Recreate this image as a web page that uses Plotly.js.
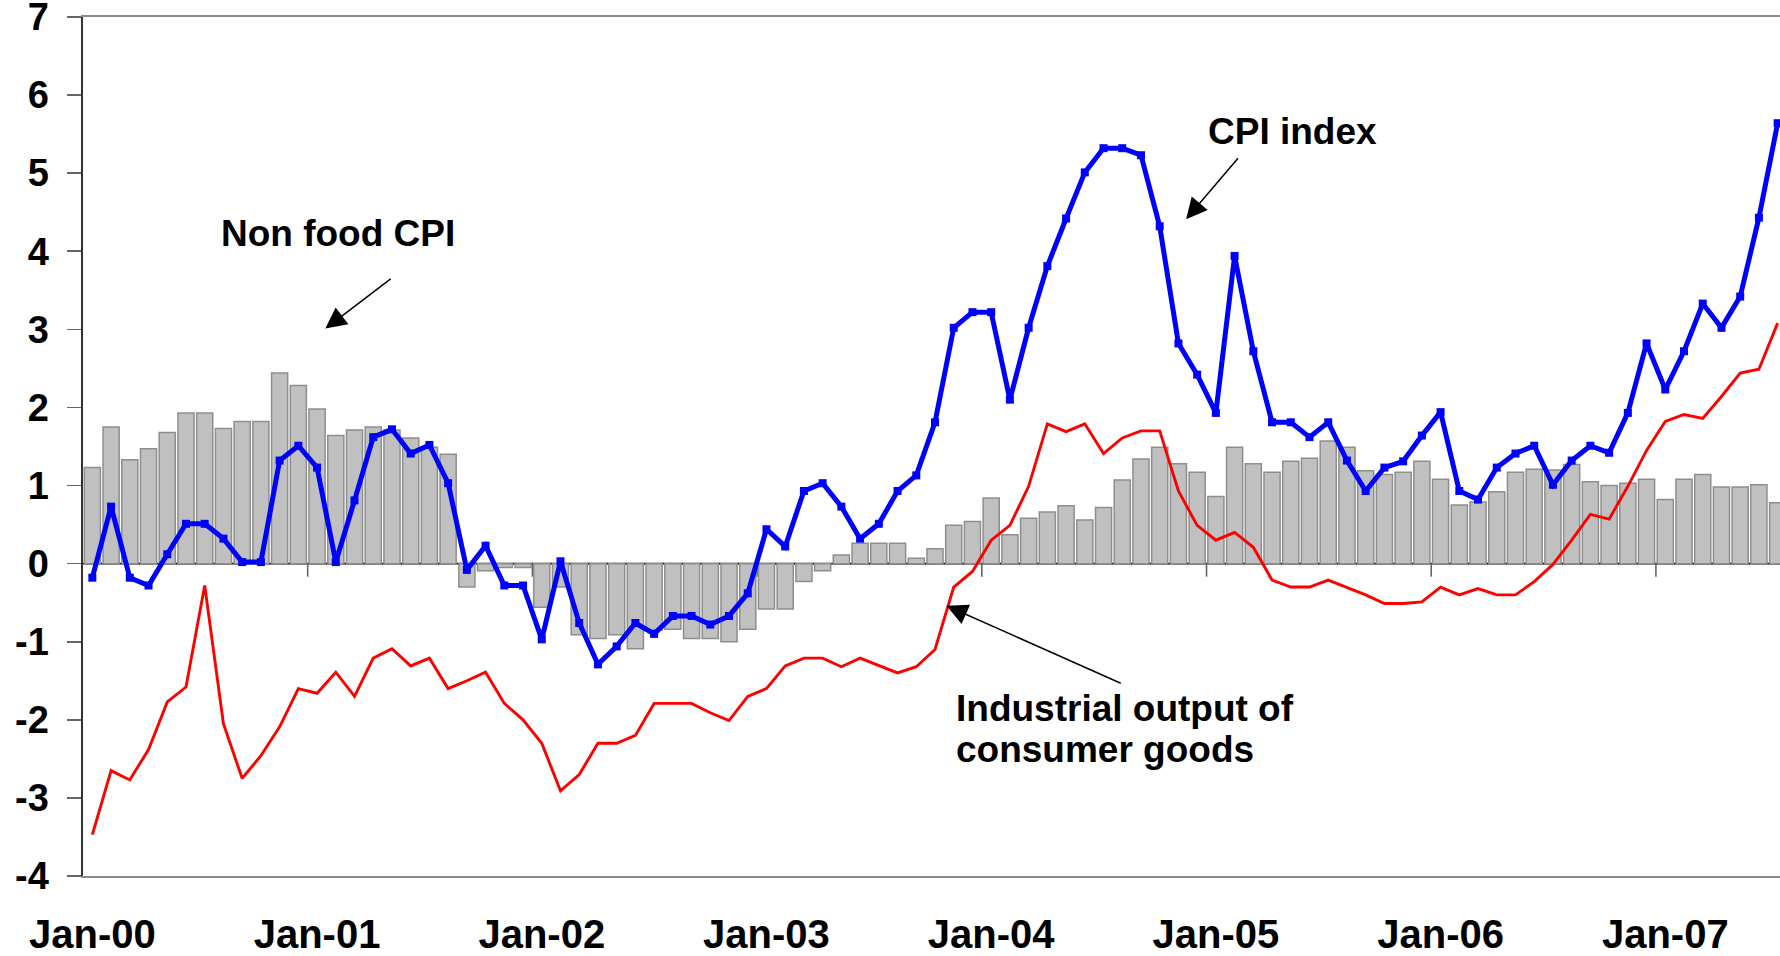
<!DOCTYPE html>
<html>
<head>
<meta charset="utf-8">
<script src="https://cdn.plot.ly/plotly-3.0.1.min.js"></script>
<style>
html,body{margin:0;padding:0;overflow:hidden;background:#ffffff}
#chart{width:1790px;height:956px}
</style>
</head>
<body>
<div id="chart"></div>
<script>
// ---- data ----
const years = ['00','01','02','03','04','05','06','07'];
const monthNames = ['Jan','Feb','Mar','Apr','May','Jun','Jul','Aug','Sep','Oct','Nov','Dec'];
const nMonths = 91; // Jan-00 .. Jul-07
const months = [];
years.forEach(y => monthNames.forEach(m => { if (months.length < nMonths) months.push(m + '-' + y); }));

const nonFoodCPI = [
  1.23, 1.75, 1.33, 1.47, 1.68, 1.93, 1.93, 1.73, 1.82, 1.82, 2.44, 2.28,
  1.98, 1.64, 1.71, 1.75, 1.71, 1.61, 1.49, 1.40, -0.30, -0.09, -0.05, -0.05,
  -0.56, -0.30, -0.91, -0.96, -0.91, -1.09, -0.85, -0.84, -0.96, -0.96, -1.00, -0.84,
  -0.58, -0.58, -0.23, -0.09, 0.11, 0.26, 0.26, 0.26, 0.07, 0.19, 0.49, 0.54,
  0.84, 0.37, 0.58, 0.66, 0.74, 0.56, 0.72, 1.07, 1.34, 1.49, 1.28, 1.17,
  0.86, 1.49, 1.28, 1.17, 1.31, 1.35, 1.57, 1.49, 1.19, 1.14, 1.17, 1.31,
  1.08, 0.75, 0.79, 0.92, 1.17, 1.21, 1.20, 1.27, 1.05, 1.00, 1.03, 1.08,
  0.82, 1.08, 1.14, 0.98, 0.98, 1.01, 0.78
];

const cpiIndex = [
  -0.18, 0.73, -0.18, -0.28, 0.12, 0.51, 0.51, 0.32, 0.02, 0.02, 1.32, 1.51,
  1.23, 0.02, 0.81, 1.62, 1.72, 1.41, 1.52, 1.03, -0.08, 0.23, -0.28, -0.28,
  -0.97, 0.03, -0.76, -1.29, -1.06, -0.76, -0.90, -0.67, -0.67, -0.78, -0.67, -0.38,
  0.44, 0.22, 0.93, 1.03, 0.73, 0.32, 0.51, 0.93, 1.13, 1.81, 3.02, 3.22,
  3.22, 2.10, 3.02, 3.81, 4.42, 5.01, 5.32, 5.32, 5.23, 4.32, 2.82, 2.42,
  1.93, 3.94, 2.72, 1.81, 1.81, 1.62, 1.81, 1.32, 0.93, 1.23, 1.31, 1.64,
  1.94, 0.93, 0.82, 1.23, 1.41, 1.51, 1.01, 1.32, 1.51, 1.42, 1.93, 2.82,
  2.23, 2.72, 3.33, 3.02, 3.42, 4.43, 5.64
];

const industrialOutput = [
  -3.47, -2.65, -2.77, -2.38, -1.77, -1.58, -0.28, -2.05, -2.75, -2.46, -2.09, -1.60,
  -1.66, -1.39, -1.70, -1.21, -1.09, -1.31, -1.21, -1.60, -1.50, -1.39, -1.79, -2.00,
  -2.30, -2.91, -2.70, -2.30, -2.30, -2.20, -1.79, -1.79, -1.79, -1.91, -2.01, -1.70,
  -1.60, -1.31, -1.21, -1.21, -1.32, -1.21, -1.31, -1.40, -1.32, -1.10, -0.30, -0.10,
  0.30, 0.49, 0.99, 1.79, 1.69, 1.79, 1.41, 1.61, 1.70, 1.70, 0.93, 0.49,
  0.30, 0.40, 0.21, -0.21, -0.30, -0.30, -0.21, -0.30, -0.40, -0.51, -0.51, -0.49,
  -0.30, -0.40, -0.32, -0.40, -0.40, -0.23, -0.01, 0.30, 0.63, 0.57, 0.99, 1.45,
  1.82, 1.91, 1.86, 2.14, 2.44, 2.49, 3.08
];

const yTickVals = [-4, -3, -2, -1, 0, 1, 2, 3, 4, 5, 6, 7];
const yTickText = ['-4', '-3', '-2', '-1', '0', '1', '2', '3', '4', '5', '6', '7'];
const xTickVals = months.filter(m => m.startsWith('Jan'));

// ---- chart ----
const FONT = 'Liberation Sans, Arial, Helvetica, sans-serif';

const traces = [
  {
    type: 'bar', name: 'Non food CPI', x: months, y: nonFoodCPI,
    marker: {color: '#C0C0C0', line: {color: '#8E8E8E', width: 1.5}},
    hoverinfo: 'x+y'
  },
  {
    type: 'scatter', mode: 'lines', name: 'Industrial output of consumer goods',
    x: months, y: industrialOutput,
    line: {color: '#FF0000', width: 2.9}
  },
  {
    type: 'scatter', mode: 'lines+markers', name: 'CPI index',
    x: months, y: cpiIndex,
    line: {color: '#0000FF', width: 5},
    marker: {color: '#0000FF', symbol: 'square', size: 8}
  }
];

// year-boundary tick marks on the zero axis line
const shapes = [
  {type: 'line', xref: 'paper', yref: 'y', x0: 0, x1: 1, y0: 0, y1: 0,
   line: {color: '#000000', width: 1.6}, layer: 'below'}
];
xTickVals.slice(1).forEach(m => {
  const idx = months.indexOf(m) - 0.5;
  shapes.push({type: 'line', xref: 'x', yref: 'y', x0: idx, x1: idx,
    ysizemode: 'pixel', yanchor: 0, y0: 0, y1: -13,
    line: {color: '#666666', width: 1.6}, layer: 'below'});
});

const annFont = (s) => ({family: FONT, size: s, color: '#000000', weight: 'bold'});
const annotations = [
  {xref: 'x', yref: 'y', x: 13.1, y: 4.23, text: 'Non food CPI', showarrow: false,
   font: annFont(37), xanchor: 'center', yanchor: 'middle'},
  {xref: 'x', yref: 'y', x: 64.1, y: 5.53, text: 'CPI index', showarrow: false,
   font: annFont(37), xanchor: 'center', yanchor: 'middle'},
  {xref: 'x', yref: 'y', x: 46.0, y: -1.86, text: 'Industrial output of', showarrow: false,
   font: annFont(37), xanchor: 'left', yanchor: 'middle'},
  {xref: 'x', yref: 'y', x: 46.0, y: -2.38, text: 'consumer goods', showarrow: false,
   font: annFont(37), xanchor: 'left', yanchor: 'middle'},
  // arrows
  {xref: 'x', yref: 'y', axref: 'x', ayref: 'y', x: 12.44, y: 3.01, ax: 16.01, ay: 3.66,
   text: '', showarrow: true, arrowhead: 2, arrowsize: 2.8, arrowwidth: 1.5, arrowcolor: '#000000', standoff: 0},
  {xref: 'x', yref: 'y', axref: 'x', ayref: 'y', x: 58.41, y: 4.41, ax: 61.25, ay: 5.21,
   text: '', showarrow: true, arrowhead: 2, arrowsize: 2.8, arrowwidth: 1.5, arrowcolor: '#000000', standoff: 0},
  {xref: 'x', yref: 'y', axref: 'x', ayref: 'y', x: 45.62, y: -0.54, ax: 55.0, ay: -1.54,
   text: '', showarrow: true, arrowhead: 2, arrowsize: 2.8, arrowwidth: 1.5, arrowcolor: '#000000', standoff: 0}
];

const layout = {
  width: 1790, height: 956,
  margin: {l: 83, r: 3, t: 17, b: 80, pad: 0},
  paper_bgcolor: '#ffffff', plot_bgcolor: '#ffffff',
  showlegend: false,
  bargap: 0.14,
  font: {family: FONT, color: '#000000'},
  xaxis: {
    type: 'category', range: [-0.5, nMonths - 0.5],
    tickvals: xTickVals, ticktext: xTickVals,
    ticks: '', showgrid: false, zeroline: false,
    showline: true, linecolor: '#8C8C8C', linewidth: 1.6, mirror: true,
    tickfont: {family: FONT, size: 40, color: '#000000', weight: 'bold'},
    ticklabelstandoff: 22, ticklabeloverflow: 'allow'
  },
  yaxis: {
    range: [-4, 7], tickvals: yTickVals, ticktext: yTickText,
    ticks: 'outside', ticklen: 14, tickwidth: 1.6, tickcolor: '#666666',
    showgrid: false, zeroline: false,
    showline: true, linecolor: '#333333', linewidth: 1.6,
    tickfont: {family: FONT, size: 38, color: '#000000', weight: 'bold'},
    ticklabelstandoff: 11, ticklabeloverflow: 'allow'
  },
  shapes: shapes,
  annotations: annotations
};

Plotly.newPlot('chart', traces, layout, {displayModeBar: false, staticPlot: true});
</script>
</body>
</html>
